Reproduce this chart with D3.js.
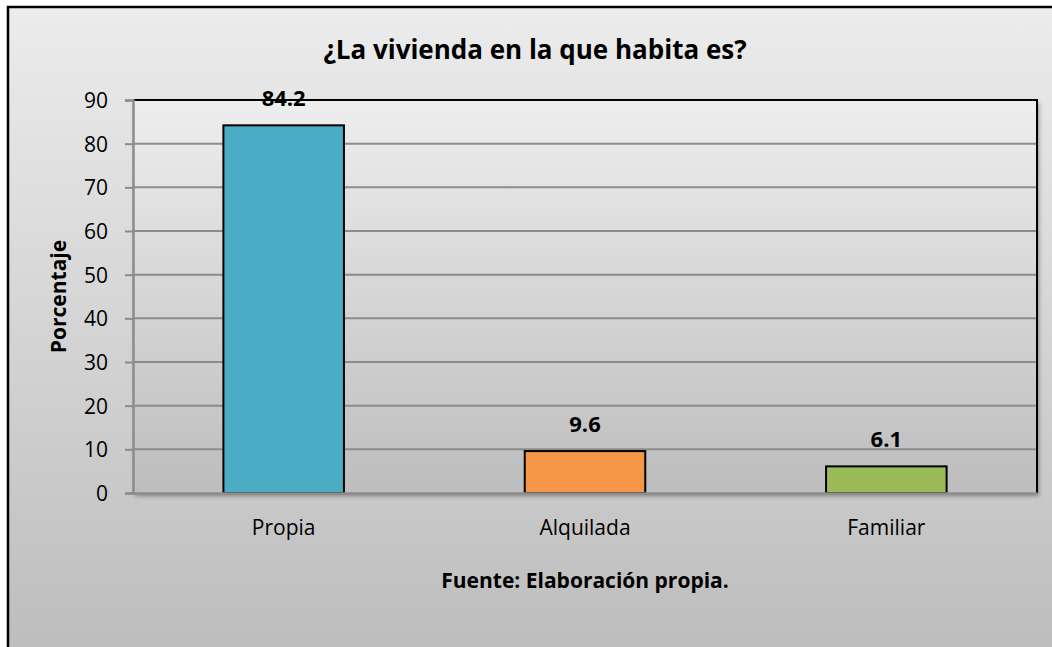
<!DOCTYPE html>
<html>
<head>
<meta charset="utf-8">
<script src="https://cdn.jsdelivr.net/npm/d3@7"></script>
<style>
  body { margin: 0; background: #fff; }
  text { font-family: "Open Sans", "DejaVu Sans", sans-serif; fill: #000; }
</style>
</head>
<body>
<script>
var categories = ["Propia", "Alquilada", "Familiar"];
var values = [84.2, 9.6, 6.1];
var colors = ["#4BACC6", "#F79646", "#9BBB59"];
var yTicks = [0, 10, 20, 30, 40, 50, 60, 70, 80, 90];

var W = 1052, H = 647;
var margin = {top: 100, right: 15, bottom: 154, left: 133},
    width = W - margin.left - margin.right,
    height = H - margin.top - margin.bottom;

var svg = d3.select("body").append("svg")
  .attr("width", W)
  .attr("height", H);

var defs = svg.append("defs");
var bg = defs.append("linearGradient").attr("id", "bg")
  .attr("x1", 0).attr("y1", 0).attr("x2", 0).attr("y2", 1);
bg.append("stop").attr("offset", "0%").attr("stop-color", "#ececec");
bg.append("stop").attr("offset", "100%").attr("stop-color", "#bcbcbc");

var pg = defs.append("linearGradient").attr("id", "pg")
  .attr("x1", 0).attr("y1", 0).attr("x2", 0).attr("y2", 1);
pg.append("stop").attr("offset", "0%").attr("stop-color", "#eeeeee");
pg.append("stop").attr("offset", "100%").attr("stop-color", "#bdbdbd");

var sh = defs.append("filter").attr("id", "sh")
  .attr("x", "-5%").attr("y", "-5%").attr("width", "110%").attr("height", "115%");
sh.append("feDropShadow").attr("dx", 2).attr("dy", 3).attr("stdDeviation", 2)
  .attr("flood-color", "#000").attr("flood-opacity", 0.35);

// chart background
svg.append("rect")
  .attr("x", 8).attr("y", 7)
  .attr("width", W + 10).attr("height", H + 10)
  .attr("fill", "url(#bg)")
  .attr("stroke", "#000").attr("stroke-width", 2.5);

// title
svg.append("text")
  .attr("x", 535).attr("y", 59)
  .attr("text-anchor", "middle")
  .style("font-size", "26px").style("font-weight", "bold")
  .text("¿La vivienda en la que habita es?");

var g = svg.append("g")
  .attr("transform", "translate(" + margin.left + "," + margin.top + ")");

var x = d3.scaleBand().domain(categories).range([0, width]).paddingInner(0.6).paddingOuter(0.3);
var y = d3.scaleLinear().domain([0, 90]).range([height, 0]);

// plot area
g.append("rect")
  .attr("width", width).attr("height", height)
  .attr("fill", "url(#pg)")
  .attr("filter", "url(#sh)");

// gridlines
g.selectAll(".grid").data(yTicks.slice(1, -1)).enter().append("line")
  .attr("x1", 0).attr("x2", width)
  .attr("y1", function(d) { return y(d); })
  .attr("y2", function(d) { return y(d); })
  .attr("stroke", "#8c8c8c").attr("stroke-width", 2);

// top and right border
g.append("path")
  .attr("d", "M0," + y(90) + "H" + width + "V" + height)
  .attr("fill", "none").attr("stroke", "#000").attr("stroke-width", 2);

// bars
g.selectAll(".bar").data(values).enter().append("rect")
  .attr("x", function(d, i) { return x(categories[i]); })
  .attr("y", function(d) { return y(d); })
  .attr("width", x.bandwidth())
  .attr("height", function(d) { return height - y(d); })
  .attr("fill", function(d, i) { return colors[i]; })
  .attr("stroke", "#000").attr("stroke-width", 2);

// value labels
g.selectAll(".lbl").data(values).enter().append("text")
  .attr("x", function(d, i) { return x(categories[i]) + x.bandwidth() / 2; })
  .attr("y", function(d) { return y(d) - 19; })
  .attr("text-anchor", "middle")
  .style("font-size", "22px").style("font-weight", "bold")
  .text(function(d) { return d.toFixed(1); });

// y axis
var yAxis = g.append("g")
  .call(d3.axisLeft(y).tickValues(yTicks).tickSize(8).tickPadding(17));
yAxis.select(".domain").attr("stroke", "#8c8c8c").attr("stroke-width", 2.5);
yAxis.selectAll(".tick line").attr("stroke", "#8c8c8c").attr("stroke-width", 2);
yAxis.selectAll(".tick text").style("font-size", "21px").attr("dy", "0.35em");

// x axis
var xAxis = g.append("g")
  .attr("transform", "translate(0," + height + ")")
  .call(d3.axisBottom(x).tickSize(0).tickPadding(27));
xAxis.select(".domain").attr("stroke", "#8c8c8c").attr("stroke-width", 2.5);
xAxis.selectAll(".tick text").style("font-size", "21px");

// y label
svg.append("text")
  .attr("transform", "translate(66," + (margin.top + height / 2) + ") rotate(-90)")
  .attr("text-anchor", "middle")
  .style("font-size", "21px").style("font-weight", "bold")
  .text("Porcentaje");

// source
svg.append("text")
  .attr("x", margin.left + width / 2).attr("y", 588)
  .attr("text-anchor", "middle")
  .style("font-size", "21px").style("font-weight", "bold")
  .text("Fuente: Elaboración propia.");
</script>
</body>
</html>
